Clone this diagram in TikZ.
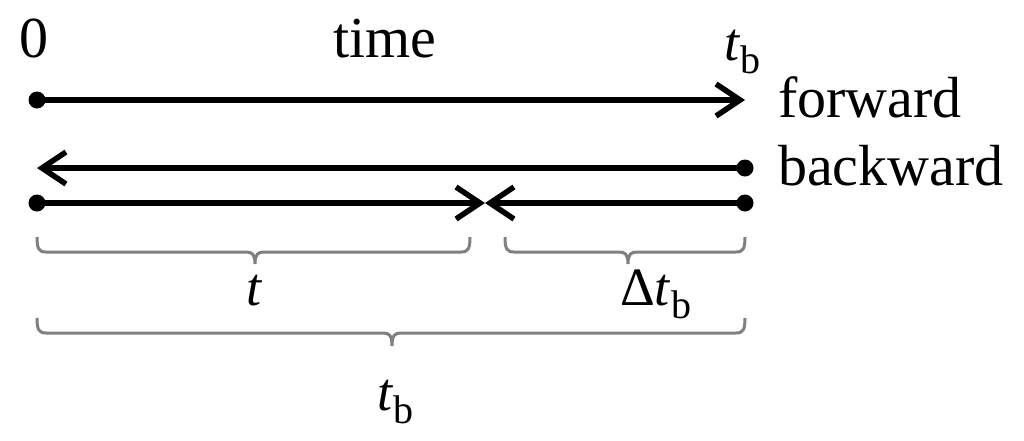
\documentclass[tikz,border=0pt]{standalone}
\usepackage{fontspec}
\setmainfont{Liberation Serif}
\usetikzlibrary{arrows.meta}
\newcommand{\tsub}{\textit{t}\raisebox{-0.25em}{\fontsize{40}{40}\selectfont b}}
\begin{document}
\begin{tikzpicture}[x=1pt,y=-1pt,
  dot/.style={circle,fill=black,inner sep=0pt,minimum size=17pt},
  arr/.style={line width=5.5pt,-{Straight Barb[length=24pt,width=32pt]}},
  brace/.style={draw=gray,line width=3pt},
  lbl/.style={font=\fontsize{58}{58}\selectfont,inner sep=0pt,anchor=base},
  mlbl/.style={font=\fontsize{54}{54}\selectfont,inner sep=0pt,anchor=base}]
\useasboundingbox (0,0) rectangle (1024,440);
% texts
\node[lbl] (zero) at (34,57) {0};
\node[lbl] (time) at (385,57) {time};
\node[mlbl,anchor=base west] (tbtop) at (724,60) {\tsub};
\node[lbl,anchor=base west] (fw) at (778,117) {forward};
\node[lbl,anchor=base west] (bw) at (778,185) {backward};
% forward
\node[dot] (f0) at (37,100) {};
\coordinate (f1) at (745,100);
\draw[arr] (f0.center) -- (f1);
% backward
\node[dot] (b0) at (745,168) {};
\coordinate (b1) at (37,168);
\draw[arr] (b0.center) -- (b1);
% meeting
\node[dot] (m0) at (37,203) {};
\node[dot] (m1) at (745,203) {};
\coordinate (mc) at (485,203);
\draw[arr] (m0.center) -- (mc);
\draw[arr] (m1.center) -- (mc);
% braces
\draw[brace] (37,237) .. controls (37,249) and (39,252) .. (46,252) -- (246,252)
  .. controls (252,252) and (255,254) .. (255,264)
  .. controls (255,254) and (258,252) .. (264,252) -- (461,252)
  .. controls (468,252) and (470,249) .. (470,237);
\draw[brace] (505,237) .. controls (505,249) and (507,252) .. (514,252) -- (619,252)
  .. controls (625,252) and (628,254) .. (628,264)
  .. controls (628,254) and (631,252) .. (637,252) -- (736,252)
  .. controls (743,252) and (745,249) .. (745,237);
\draw[brace] (37,318) .. controls (37,330) and (39,333) .. (46,333) -- (383,333)
  .. controls (389,333) and (392,335) .. (392,346)
  .. controls (392,335) and (395,333) .. (401,333) -- (736,333)
  .. controls (743,333) and (745,330) .. (745,318);
\node[mlbl] (tl) at (255,305) {\textit{t}};
\node[mlbl,anchor=base west] (dtb) at (620,305) {Δ\tsub};
\node[mlbl,anchor=base west] (tbb) at (377,410) {\tsub};
\end{tikzpicture}
\end{document}
